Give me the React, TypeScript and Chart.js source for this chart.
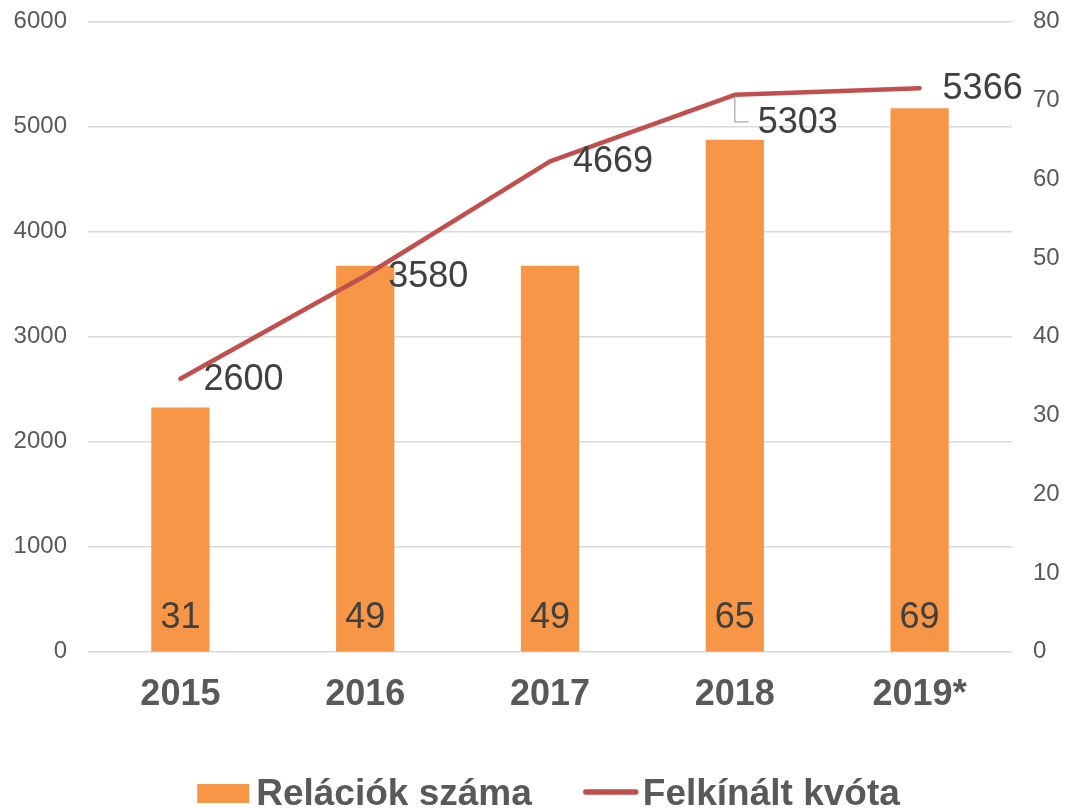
import React, { useEffect, useRef } from "react";
import { Chart, registerables } from "chart.js";

Chart.register(...registerables);

const years = ["2015", "2016", "2017", "2018", "2019*"];
const relaciokSzama = [31, 49, 49, 65, 69];
const felkinaltKvota = [2600, 3580, 4669, 5303, 5366];
const seriesNames = ["Relációk száma", "Felkínált kvóta"];

const FONT = "'Liberation Sans', Arial, sans-serif";
const BAR_COLOR = "#F79646";
const LINE_COLOR = "#C0504D";
const TEXT_DARK = "#404040";
const TEXT_GRAY = "#595959";

const labelPlugin = {
  id: "valueLabels",
  afterDatasetsDraw(chart: any) {
    const ctx = chart.ctx;
    const area = chart.chartArea;
    ctx.save();
    ctx.font = `36px ${FONT}`;
    ctx.fillStyle = TEXT_DARK;
    ctx.textBaseline = "middle";
    const barMeta = chart.getDatasetMeta(0);
    barMeta.data.forEach((el: any, i: number) => {
      ctx.textAlign = "center";
      ctx.fillText(String(relaciokSzama[i]), el.x, area.bottom - 34);
    });
    const lineMeta = chart.getDatasetMeta(1);
    lineMeta.data.forEach((pt: any, i: number) => {
      const dy = i === 3 ? 27 : 0;
      if (dy) {
        ctx.strokeStyle = "#A6A6A6";
        ctx.lineWidth = 1.2;
        ctx.beginPath();
        ctx.moveTo(pt.x, pt.y + 2);
        ctx.lineTo(pt.x, pt.y + dy);
        ctx.lineTo(pt.x + 14, pt.y + dy);
        ctx.stroke();
      }
      ctx.textAlign = "left";
      ctx.fillStyle = TEXT_DARK;
      ctx.fillText(String(felkinaltKvota[i]), pt.x + 23, pt.y + dy + 1);
    });
    ctx.restore();
  },
};

const legendPlugin = {
  id: "customLegend",
  afterDraw(chart: any) {
    const ctx = chart.ctx;
    const area = chart.chartArea;
    ctx.save();
    ctx.font = `bold 37px ${FONT}`;
    ctx.textBaseline = "alphabetic";
    ctx.textAlign = "left";
    const boxW = 52;
    const lineW = 56;
    const w1 = ctx.measureText(seriesNames[0]).width;
    const w2 = ctx.measureText(seriesNames[1]).width;
    const total = boxW + 7 + w1 + 51 + lineW + 4 + w2;
    const cx = (area.left + area.right) / 2 - 1.5;
    let x = cx - total / 2;
    const baseline = 805;
    ctx.fillStyle = BAR_COLOR;
    ctx.fillRect(x, 784, boxW, 19);
    x += boxW + 7;
    ctx.fillStyle = TEXT_GRAY;
    ctx.fillText(seriesNames[0], x, baseline);
    x += w1 + 51;
    ctx.strokeStyle = LINE_COLOR;
    ctx.lineWidth = 5.5;
    ctx.lineCap = "round";
    ctx.beginPath();
    ctx.moveTo(x + 3, 792);
    ctx.lineTo(x + lineW - 3, 792);
    ctx.stroke();
    x += lineW + 4;
    ctx.fillStyle = TEXT_GRAY;
    ctx.fillText(seriesNames[1], x, baseline);
    ctx.restore();
  },
};

export default function App() {
  const canvasRef = useRef<HTMLCanvasElement | null>(null);

  useEffect(() => {
    const canvas = canvasRef.current;
    if (!canvas) return;
    const chart = new Chart(canvas, {
      type: "bar",
      data: {
        labels: years,
        datasets: [
          {
            type: "bar",
            label: seriesNames[0],
            data: relaciokSzama,
            backgroundColor: BAR_COLOR,
            yAxisID: "y1",
            barPercentage: 0.315,
            categoryPercentage: 1,
            order: 2,
          },
          {
            type: "line",
            label: seriesNames[1],
            data: felkinaltKvota,
            borderColor: LINE_COLOR,
            backgroundColor: LINE_COLOR,
            borderWidth: 4.5,
            borderCapStyle: "round",
            borderJoinStyle: "round",
            pointRadius: 0,
            pointHoverRadius: 0,
            tension: 0,
            yAxisID: "y",
            order: 1,
          },
        ] as any,
      },
      options: {
        animation: false,
        responsive: true,
        maintainAspectRatio: false,
        layout: { padding: { left: 13, right: 13, top: 1, bottom: 69 } },
        plugins: {
          legend: { display: false },
          tooltip: { enabled: false },
        },
        scales: {
          x: {
            grid: { display: false, drawTicks: false },
            border: { display: false },
            ticks: {
              color: TEXT_GRAY,
              font: { family: FONT, size: 36, weight: "bold" },
              padding: 22,
            },
          },
          y: {
            position: "left",
            min: 0,
            max: 6000,
            grid: { color: "#D9D9D9", lineWidth: 1.5, drawTicks: false },
            border: { display: false },
            afterFit: (scale: any) => {
              scale.width = 75;
            },
            ticks: {
              stepSize: 1000,
              color: TEXT_GRAY,
              font: { family: FONT, size: 24, lineHeight: 0.05 },
              padding: 21,
              callback: (v: any) => String(v),
            },
          },
          y1: {
            position: "right",
            min: 0,
            max: 80,
            grid: { display: false, drawTicks: false },
            border: { display: false },
            afterFit: (scale: any) => {
              scale.width = 47;
            },
            ticks: {
              stepSize: 10,
              color: TEXT_GRAY,
              font: { family: FONT, size: 24, lineHeight: 0.05 },
              padding: 21,
              callback: (v: any) => String(v),
            },
          },
        },
      } as any,
      plugins: [labelPlugin, legendPlugin],
    });
    return () => chart.destroy();
  }, []);

  return (
    <div style={{ position: "absolute", left: 0, top: 0, width: 1072, height: 808, background: "#fff" }}>
      <canvas ref={canvasRef} />
    </div>
  );
}
